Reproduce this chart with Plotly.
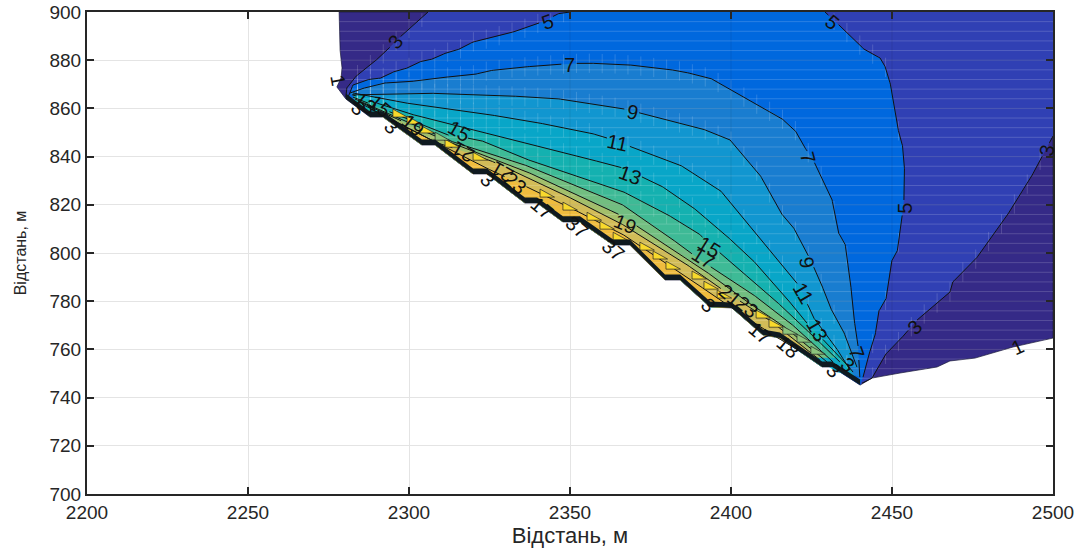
import numpy as np
import plotly.graph_objects as go

# ---- contour geometry (metres) ----
outer_left_x = [2278.3, 2278.6, 2279.2, 2278.9, 2277.6, 2280.4]
outer_left_y = [900, 884.2, 876.8, 872.6, 868.9, 863.9]

edge_x = [2280.4, 2287.9, 2291.9, 2304.0, 2308.1, 2319.9, 2324.2, 2336.0, 2339.8, 2347.8, 2353.1,
          2363.4, 2368.6, 2379.5, 2384.2, 2393.5, 2400.3, 2409.9, 2415.2, 2428.3, 2431.4, 2440.1]
edge_y = [863.9, 856.4, 856.4, 844.8, 844.8, 832.8, 832.8, 820.7, 820.7, 812.9, 812.9,
          803.3, 803.3, 788.8, 788.8, 777.6, 777.2, 766, 764.7, 752.7, 752.7, 745.2]

outer_right_x = [2443.8, 2452.5, 2464, 2468, 2475.8, 2487.6, 2500, 2500]
outer_right_y = [748.1, 750.2, 752.7, 755.2, 756.4, 761, 764.7, 900]

c3_left_x = [2305.9, 2299.4, 2291, 2283.9, 2280.7, 2280.4]
c3_left_y = [900, 892.5, 881.3, 873.9, 868.5, 864.7]
c3_right_x = [2440.7, 2443.8, 2447.8, 2451.9, 2457.8, 2468, 2468.9, 2475.8, 2484.2, 2488.8, 2492.2, 2500]
c3_right_y = [746, 748.1, 757.7, 763.1, 772.2, 783.8, 788, 797.1, 812.4, 822, 829, 848.5]

c5_left_x = [2350, 2346.9, 2341.3, 2334.5, 2324.2, 2319.9, 2315.8, 2312.1, 2307.5, 2304, 2299.7,
             2295.7, 2291.6, 2287.9, 2282.6, 2281.1]
c5_left_y = [900, 899.6, 895.9, 892.5, 888.8, 887.6, 884.6, 883.4, 880.5, 879.7, 876.8,
             875.5, 872.6, 872.2, 869.7, 864.7]
c5_right_x = [2441, 2442.5, 2444.7, 2445.7, 2448.1, 2449.7, 2451.6, 2453.1, 2453.7, 2454, 2453.4,
              2452.2, 2450, 2448.1, 2446.3, 2441.6, 2434.5, 2429.2]
c5_right_y = [748.5, 756.8, 765.1, 775.5, 780.5, 796.3, 800.4, 814.9, 822, 832.4, 844,
              849, 867.6, 876.8, 880.9, 884.2, 893.4, 900]

c7_x = [2281.7, 2283.9, 2291.6, 2299.4, 2308.1, 2319.9, 2324.2, 2332, 2339.8, 2347.8, 2354, 2365.5,
        2374.8, 2384.2, 2393.5, 2402.8, 2415.2, 2419.9, 2422, 2425.5, 2428.3, 2431.4, 2433.2,
        2435.4, 2437, 2437.9, 2439.4, 2440]
c7_y = [866.4, 867.6, 870.5, 870.9, 872.6, 873.9, 875.5, 876.8, 877.6, 878.4, 878.8, 878.4,
        877.2, 875.5, 872.6, 865.6, 856.4, 851, 845.6, 838.6, 831.1, 822, 808.7,
        804.1, 790, 775.1, 762.7, 748.5]
c9_x = [2282.3, 2303.4, 2324.2, 2344.7, 2365.5, 2377.9, 2390.4, 2399.7, 2409, 2415.2, 2419.3,
        2423.6, 2427.6, 2430.7, 2434.8, 2439.1]
c9_y = [865.6, 866.4, 865.6, 864.3, 860.2, 856, 851.9, 846.9, 832.4, 817, 810.8,
        800, 788.8, 777.6, 768, 752.7]
c11_x = [2282.6, 2296.3, 2315.8, 2335.4, 2355.3, 2361.5, 2371.7, 2384.2, 2396.6, 2406.8, 2415.2,
         2421.4, 2425.5, 2431.7, 2437]
c11_y = [866.4, 862.7, 859.3, 855.2, 850.2, 847.7, 842.7, 836.5, 826.1, 809.5, 796.3,
         785.9, 773.4, 762.7, 751.4]
c13_x = [2282.6, 2298.1, 2313.7, 2326.1, 2344.7, 2365.5, 2377.9, 2387.3, 2396.6, 2405.9, 2415.2,
         2423.6, 2434.8, 2437.9]
c13_y = [865.6, 858.5, 853.1, 849, 842.7, 835.7, 828.2, 819.9, 809.5, 798.3, 784.6,
         770.9, 755.6, 750.6]
c15_x = [2282.6, 2311.8, 2322, 2334.5, 2350.9, 2365.5, 2377.9, 2389.4, 2399.7, 2411.2, 2421.4, 2433.8]
c15_y = [864.7, 849, 846.9, 839.8, 832.4, 826.1, 817.8, 808.7, 796.3, 783.4, 770.9, 754.8]
c17_x = [2283.2, 2311.8, 2334.5, 2365.5, 2377.9, 2391.3, 2405, 2417.4, 2431.7]
c17_y = [863.9, 846.9, 837.3, 820.7, 809.5, 796.3, 784.6, 772.2, 754.8]
c19_x = [2284.2, 2309.6, 2334.5, 2350, 2365.5, 2372.7, 2390.4, 2402.8, 2415.2, 2429.8]
c19_y = [863, 847.5, 835, 825.5, 815.8, 809.5, 794.2, 781.7, 770.9, 754.8]
c21_x = [2285.4, 2308.1, 2324.2, 2344.7, 2365.5, 2385.1, 2398.8, 2411.2, 2427.6]
c21_y = [861.8, 846, 839, 826.5, 812.5, 796.3, 783.4, 773, 755.6]
c23_x = [2287.9, 2309.6, 2322, 2343.7, 2365.5, 2383.2, 2396.6, 2410.5, 2426]
c23_y = [859.8, 845, 836.5, 823, 808.5, 792.9, 780.5, 768, 755.6]

yellow_tri_x = [2295, 2299.4, 2303.4, 2311.2, 2319.9, 2340.7, 2347.8, 2355.3, 2359.3, 2363.4, 2371.7,
                2375.8, 2379.8, 2387.9, 2391.6, 2395.7, 2407.8, 2411.8]
yellow_tri_y = [855.2, 852.3, 848.6, 842.7, 837.3, 822, 816.6, 812.4, 808.7, 804.1, 800,
                796.3, 792.1, 788, 783.8, 780.1, 771.8, 768]
green_tri_x = [2308.1, 2416.1, 2420.5, 2424.8]
green_tri_y = [845.6, 765.1, 761.8, 756.8]

apex_left_x = [2281.5, 2289, 2294, 2288]
apex_left_y = [864.5, 860.5, 856.5, 857]
apex_right_x = [2426, 2433, 2438.5, 2433]
apex_right_y = [756.5, 756.5, 749, 750.5]

label_text = ["3", "5", "5", "7", "9", "11", "13", "15", "17", "19", "15", "19", "3", "3", "3", "13", "15",
              "21", "21", "23", "17", "37", "37", "3", "21", "23", "17", "18", "3", "3", "7", "9", "11", "13",
              "7", "5", "3", "3", "1", "1"]
label_x = [2295.7, 2342.9, 2431.4, 2349.7, 2369.3, 2364.9, 2368.6, 2393.2, 2391.3, 2367.1, 2315.5, 2301.2,
           2284.2, 2294.7, 2324.5, 2286.3, 2291, 2316.8, 2328.9, 2332.9, 2341.3, 2352.2, 2363.4, 2392.9,
           2399.7, 2405, 2409, 2417.7, 2431.7, 2436.3, 2439.1, 2423.6, 2422.4, 2426.7, 2423.9, 2454,
           2457.1, 2498.1, 2489.1, 2278]
label_y = [887.6, 895.9, 895.9, 878, 858.5, 845.6, 832.4, 802.5, 797.9, 812, 850.6, 853.1,
           860.2, 852.3, 830.3, 862.2, 861, 841.9, 833.6, 829, 818.7, 810.8, 801.2, 778.4,
           782.6, 777.6, 766.8, 761, 751.4, 753.5, 758.5, 795.9, 783.4, 768, 839.4, 818.7,
           769.3, 842.7, 761, 871.8]
label_angle = [-50, -20, 40, 0, 12, 12, 20, 32, 32, 22, 30, 40,
               45, 45, 45, 40, 40, 210, 210, 40, 40, 40, 40, 45,
               40, 40, 40, 40, 45, 40, 70, 80, 60, 60, 75, -90,
               -45, -80, -25, 80]

level_colors = {1: "#352a87", 3: "#3040b4", 5: "#0068de", 7: "#197dd0", 9: "#1196d0", 11: "#08a6c8",
                13: "#14b1b0", 15: "#3eba96", 17: "#72be80", 19: "#a3bf6b", 21: "#d2bc58", 23: "#efbc3e"}

x_ticks = [2200, 2250, 2300, 2350, 2400, 2450, 2500]
y_ticks = [700, 720, 740, 760, 780, 800, 820, 840, 860, 880, 900]
axis_title = "Відстань, м"

PX_X, PX_Y = 3.22, 2.41  # pixels per metre, only used to size the gaps around labels

fig = go.Figure()


def poly(xs, ys, color, line=None):
    fig.add_trace(go.Scatter(x=list(xs) + [xs[0]], y=list(ys) + [ys[0]], mode="lines", fill="toself",
                             fillcolor=color, line=line or dict(width=0), hoverinfo="skip", showlegend=False))


def path(xs, ys, level):
    """contour line, broken where its own value label sits"""
    dx, dy = [], []
    for i in range(len(xs) - 1):
        n = max(2, int(np.hypot((xs[i + 1] - xs[i]) * PX_X, (ys[i + 1] - ys[i]) * PX_Y) / 1.5))
        for t in np.linspace(0, 1, n, endpoint=False):
            dx.append(xs[i] + t * (xs[i + 1] - xs[i]))
            dy.append(ys[i] + t * (ys[i + 1] - ys[i]))
    dx.append(xs[-1])
    dy.append(ys[-1])
    ox_, oy_ = [], []
    for a, b in zip(dx, dy):
        hit = False
        for t, lx, ly in zip(label_text, label_x, label_y):
            if t == str(level) and np.hypot((a - lx) * PX_X, (b - ly) * PX_Y) < (7 if len(t) == 1 else 11):
                hit = True
        ox_.append(None if hit else a)
        oy_.append(None if hit else b)
    fig.add_trace(go.Scatter(x=ox_, y=oy_, mode="lines", line=dict(color="#111111", width=1),
                             hoverinfo="skip", showlegend=False))


outer_x = outer_left_x + edge_x[1:] + outer_right_x
outer_y = outer_left_y + edge_y[1:] + outer_right_y
poly(outer_x, outer_y, level_colors[1], dict(color="#1a1a3a", width=0.7))
poly(c3_left_x + edge_x[1:] + c3_right_x + [2500], c3_left_y + edge_y[1:] + c3_right_y + [900], level_colors[3])
poly(c5_left_x + edge_x[1:] + c5_right_x, c5_left_y + edge_y[1:] + c5_right_y, level_colors[5])

arcs = [(7, c7_x, c7_y), (9, c9_x, c9_y), (11, c11_x, c11_y), (13, c13_x, c13_y), (15, c15_x, c15_y),
        (17, c17_x, c17_y), (19, c19_x, c19_y), (21, c21_x, c21_y), (23, c23_x, c23_y)]
for lev, ax, ay in arcs:
    keep = [(a, b) for a, b in zip(edge_x, edge_y) if ax[0] <= a <= ax[-1]]
    poly(ax + [p[0] for p in keep[::-1]], ay + [p[1] for p in keep[::-1]], level_colors[lev])

# faint cell mesh and grid seen through the fill
ox, oy = np.array(outer_x + [outer_x[0]]), np.array(outer_y + [outer_y[0]])


def cross_segments(u, v, value):
    pts = []
    for i in range(len(u) - 1):
        if (v[i] - value) * (v[i + 1] - value) < 0:
            pts.append(u[i] + (value - v[i]) * (u[i + 1] - u[i]) / (v[i + 1] - v[i]))
    pts.sort()
    return list(zip(pts[0::2], pts[1::2]))


mx, my = [], []
for yy in range(748, 900, 4):
    for a, b in cross_segments(ox, oy, yy):
        mx += [a, b, None]
        my += [yy, yy, None]
fig.add_trace(go.Scatter(x=mx, y=my, mode="lines", line=dict(color="rgba(255,255,255,0.17)", width=1),
                         hoverinfo="skip", showlegend=False))
sx, sy = [], []
for ax, ay in [(c3_left_x[::-1], c3_left_y[::-1]), (c3_right_x, c3_right_y), (c5_left_x[::-1], c5_left_y[::-1]),
               (c5_right_x, c5_right_y)] + [(a, b) for _, a, b in arcs[:5]]:
    for i in range(len(ax) - 1):
        lo, hi = sorted((ax[i], ax[i + 1]))
        for g in range(2200, 2504, 4):
            if lo <= g < hi:
                v = ay[i] + (g - ax[i]) * (ay[i + 1] - ay[i]) / (ax[i + 1] - ax[i])
                sx += [g, g, None]
                sy += [v - 4, min(v + 4, 899.5), None]
fig.add_trace(go.Scatter(x=sx, y=sy, mode="lines", line=dict(color="rgba(255,255,255,0.16)", width=1),
                         hoverinfo="skip", showlegend=False))
gx, gy = [], []
for xt in x_ticks[1:-1]:
    for a, b in cross_segments(oy, ox, xt):
        gx += [xt, xt, None]
        gy += [a, b, None]
for yt in y_ticks[1:-1]:
    for a, b in cross_segments(ox, oy, yt):
        gx += [a, b, None]
        gy += [yt, yt, None]
fig.add_trace(go.Scatter(x=gx, y=gy, mode="lines", line=dict(color="rgba(0,0,0,0.06)", width=1.4),
                         hoverinfo="skip", showlegend=False))

poly(apex_left_x, apex_left_y, "#16b4b4")
poly(apex_right_x, apex_right_y, "#0fa8c4")

# contour lines
for lev, ax, ay in [(3, c3_left_x, c3_left_y), (3, c3_right_x, c3_right_y), (5, c5_left_x, c5_left_y),
                    (5, c5_right_x, c5_right_y)]:
    path(ax, ay, lev)
for lev, ax, ay in arcs:
    path(ax, ay, lev)

# triangular artefacts above the crowded bottom band
for xs, ys, col in [(yellow_tri_x, yellow_tri_y, "#f8d92c"), (green_tri_x, green_tri_y, "#8cc47c")]:
    for tx, ty in zip(xs, ys):
        poly([tx, tx, tx + 4.5], [ty + 1.2, ty + 4.5, ty + 1.2], col, dict(color="#222222", width=0.7))

# dense black band of crowded contours
poly(edge_x + edge_x[::-1], edge_y + [v + 2.3 for v in edge_y[::-1]], "#0f1a20")

annotations = [dict(x=a, y=b, xref="x", yref="y", text=t, showarrow=False, textangle=r,
                    font=dict(family="Liberation Sans", size=20, color="#111111"))
               for t, a, b, r in zip(label_text, label_x, label_y, label_angle)]

axis_common = dict(showgrid=True, gridcolor="#e4e4e4", gridwidth=1.4, zeroline=False, showline=True,
                   linecolor="#262626", linewidth=2, mirror="ticks", ticks="inside", ticklen=7, tickwidth=2,
                   tickcolor="#262626", layer="above traces", automargin=False,
                   tickfont=dict(family="Liberation Sans", size=19, color="#262626"))

fig.update_layout(
    width=1085, height=549, autosize=False,
    margin=dict(l=87, r=32, t=12, b=55, autoexpand=False),
    paper_bgcolor="white", plot_bgcolor="white", showlegend=False,
    annotations=annotations,
    xaxis=dict(range=[2200, 2500], tickvals=x_ticks, ticktext=[str(v) for v in x_ticks],
               title=dict(text=axis_title, standoff=4, font=dict(family="Liberation Sans", size=22, color="#262626")),
               **axis_common),
    yaxis=dict(range=[700, 900], tickvals=y_ticks, ticktext=[str(v) for v in y_ticks],
               title=dict(text=axis_title, standoff=19, font=dict(family="Liberation Sans", size=16, color="#262626")),
               **axis_common),
)
fig.write_html("out.html", post_script="document.body.style.margin='0';", config=dict(displayModeBar=False))
